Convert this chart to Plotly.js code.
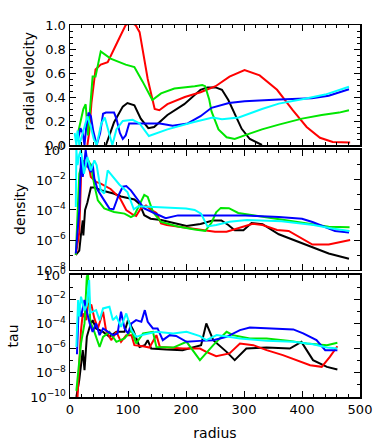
<!DOCTYPE html>
<html>
<head>
<meta charset="utf-8">
<script src="https://cdn.plot.ly/plotly-3.0.1.min.js"></script>
<style>
  html, body { margin: 0; padding: 0; background: #fff; }
  #plot { width: 382px; height: 444px; }
</style>
</head>
<body>
<div id="plot"></div>
<script>
// radial velocity (linear)
var vBlackR = [62, 76, 91, 99, 111, 122, 135, 145, 168, 197, 225, 237, 251, 262, 273, 284, 296, 310, 331];
var vBlack  = [0, 0.19, 0.32, 0.35, 0.33, 0.22, 0.14, 0.15, 0.25, 0.34, 0.46, 0.48, 0.48, 0.46, 0.375, 0.26, 0.135, 0.05, 0];
var vRedR = [30, 33, 37, 44, 53, 65, 82, 96, 105, 113, 120, 134, 146, 154, 168, 198, 225, 251, 275, 301, 327, 357, 384, 408, 431, 453, 483];
var vRed  = [0, 0.1, 0.35, 0.63, 0.67, 0.69, 0.86, 1.0, 1.02, 1.0, 0.94, 0.55, 0.3, 0.29, 0.34, 0.40, 0.44, 0.49, 0.57, 0.625, 0.58, 0.46, 0.29, 0.15, 0.06, 0.025, 0.02];
var vGreenR = [11, 16, 23, 27, 31, 39, 44, 53, 70, 96, 111, 125, 142, 157, 180, 215, 228, 233, 240, 244, 256, 270, 284, 301, 331, 360, 400, 434, 464, 481];
var vGreen  = [0.04, 0.15, 0.3, 0.34, 0.08, 0.57, 0.57, 0.78, 0.72, 0.67, 0.65, 0.53, 0.375, 0.43, 0.47, 0.49, 0.5, 0.49, 0.38, 0.28, 0.13, 0.065, 0.05, 0.08, 0.13, 0.17, 0.22, 0.25, 0.27, 0.29];
var vBlueR = [14, 18, 22, 25, 28, 32, 36, 40, 46, 52, 57, 62, 76, 80, 86, 91, 96, 102, 111, 155, 177, 203, 225, 244, 274, 301, 360, 417, 446, 481];
var vBlue  = [0.05, 0.14, 0.1, 0, 0.15, 0.27, 0.24, 0.12, 0, 0.1, 0.26, 0.27, 0.27, 0.22, 0.1, 0.05, 0.08, 0.18, 0.18, 0.18, 0.16, 0.18, 0.24, 0.31, 0.35, 0.365, 0.38, 0.39, 0.41, 0.465];
var vCyanR = [8, 11, 13, 16, 22, 30, 36, 41, 46, 54, 60, 68, 73, 80, 91, 108, 120, 136, 149, 168, 212, 246, 262, 291, 331, 360, 405, 440, 481];
var vCyan  = [0.1, 0, 0.12, 0, 0.1, 0.24, 0.15, 0.05, 0, 0.18, 0.23, 0.1, 0, 0.13, 0.2, 0.21, 0.18, 0.075, 0.1, 0.13, 0.19, 0.23, 0.215, 0.23, 0.3, 0.345, 0.385, 0.42, 0.485];

// density (log10 values)
var dBlackR = [10, 16, 19, 22, 23, 26, 30, 36, 42, 55, 75, 88, 111, 120, 128, 139, 157, 185, 201, 225, 246, 261, 273, 284, 299, 313, 332, 360, 388, 417, 446, 481];
var dBlack  = [-7.0, -6.7, -5.6, -4.7, -5.7, -4.0, -3.5, -2.5, -2.5, -2.7, -2.9, -3.1, -3.3, -3.6, -4.35, -4.58, -4.67, -4.95, -5.07, -4.93, -4.7, -4.7, -5.0, -5.35, -5.35, -4.87, -4.95, -5.62, -6.02, -6.47, -6.9, -7.25];
var dRedR = [10, 16, 19, 22, 27, 31, 36, 45, 53, 70, 86, 97, 108, 114, 122, 131, 140, 149, 157, 167, 194, 224, 250, 270, 293, 315, 332, 357, 377, 396, 418, 446, 483];
var dRed  = [-7.0, -5.5, -1.8, -1.5, -1.13, -0.8, -1.8, -2.13, -2.24, -2.6, -3.2, -4.0, -4.3, -4.4, -3.9, -3.7, -4.0, -4.2, -4.9, -5.0, -5.15, -5.27, -5.45, -5.45, -5.2, -4.92, -5.0, -5.33, -5.4, -5.8, -6.3, -6.3, -6.0];
var dGreenR = [10, 16, 22, 27, 31, 36, 42, 48, 59, 76, 94, 105, 111, 120, 128, 134, 143, 157, 186, 215, 233, 244, 252, 260, 274, 290, 331, 360, 390, 418, 446, 482];
var dGreen  = [-7.0, -1.6, -0.7, -1.1, -0.67, -1.02, -2.36, -3.36, -3.9, -4.13, -4.24, -4.47, -4.35, -3.58, -3.0, -3.13, -4.13, -4.8, -5.1, -5.3, -5.4, -4.85, -4.15, -3.86, -3.88, -4.2, -4.45, -4.62, -4.8, -4.97, -5.12, -5.15];
var dBlueR = [10, 16, 19, 22, 27, 31, 36, 39, 42, 48, 59, 68, 75, 84, 91, 97, 105, 117, 128, 145, 165, 186, 226, 252, 302, 360, 400, 418, 440, 457, 481];
var dBlue  = [-6.9, -4.0, -0.47, -1.8, 0.0, -1.13, -1.47, -0.91, -1.91, -2.69, -3.36, -3.91, -3.95, -3.0, -2.45, -2.4, -2.69, -3.36, -3.9, -4.2, -4.55, -4.36, -4.36, -4.4, -4.36, -4.47, -4.58, -4.8, -5.15, -5.4, -5.5];
var dCyanR = [10, 11, 13, 16, 19, 24, 30, 36, 42, 46, 53, 59, 65, 76, 85, 99, 106, 110, 118, 145, 170, 200, 215, 226, 237, 252, 275, 305, 365, 420, 452, 482];
var dCyan  = [-3.8, 0, -1.0, -0.3, 0, -1.58, -0.47, -1.36, -0.69, -1.02, -2.69, -2.91, -1.36, -1.91, -2.3, -2.8, -3.6, -3.95, -3.75, -3.8, -3.82, -3.9, -4.0, -4.25, -5.1, -5.0, -4.78, -4.66, -4.75, -5.0, -5.23, -5.4];

// tau (log10 values)
var tBlackR = [11, 16, 22, 25, 29, 34, 39, 45, 57, 68, 80, 94, 100, 109, 120, 129, 134, 140, 166, 194, 226, 235, 247, 270, 284, 304, 339, 379, 399, 419, 443, 461];
var tBlack  = [-10, -8.6, -6.16, -7.8, -5.07, -4.25, -3.7, -4.38, -4.66, -5.07, -4.66, -4.66, -3.7, -4.52, -5.9, -5.75, -5.34, -6.03, -6.11, -6.16, -5.75, -3.97, -5.34, -6.3, -6.98, -6.03, -5.95, -6.03, -5.48, -6.98, -7.53, -7.75];
var tRedR = [13, 19, 22, 28, 31, 37, 42, 48, 57, 62, 71, 80, 88, 97, 106, 111, 126, 137, 149, 155, 195, 224, 235, 252, 275, 293, 316, 339, 367, 391, 414, 434, 448, 461];
var tRed  = [-10, -4.52, -3.15, -3.7, -2.33, -2.47, -3.56, -4.38, -3.01, -4.52, -5.34, -4.66, -5.48, -4.93, -4.93, -5.75, -5.84, -5.95, -4.93, -5.9, -6.03, -6.03, -6.3, -6.65, -6.43, -5.61, -5.75, -6.16, -6.57, -6.98, -7.4, -7.53, -6.71, -5.84];
var tGreenR = [11, 19, 25, 29, 31, 35, 42, 51, 57, 68, 80, 94, 106, 114, 126, 143, 149, 178, 201, 224, 247, 270, 281, 310, 339, 379, 408, 443, 461];
var tGreen  = [-9.5, -5.6, -3.97, -0.14, 0.1, -3.84, -4.66, -5.9, -5.07, -4.66, -5.48, -5.2, -4.52, -5.61, -4.79, -4.66, -5.9, -5.95, -5.48, -6.98, -5.75, -4.66, -4.93, -5.2, -5.2, -5.4, -5.61, -5.75, -5.56];
var tBlueR = [12, 15, 19, 25, 29, 34, 39, 45, 51, 57, 74, 82, 88, 94, 100, 106, 114, 123, 129, 134, 143, 151, 160, 172, 183, 201, 224, 247, 270, 293, 310, 344, 385, 402, 425, 440, 461];
var tBlue  = [-6.5, -2.6, -3.4, -2.05, -3.0, -3.97, -4.66, -3.97, -4.93, -4.38, -4.93, -4.8, -3.01, -4.38, -4.79, -3.97, -3.7, -3.84, -2.88, -3.84, -4.38, -4.38, -5.34, -4.93, -5.0, -5.48, -5.4, -5.34, -5.07, -4.52, -4.3, -4.35, -4.46, -4.79, -5.34, -6.16, -6.16];
var tCyanR = [11, 14, 16, 19, 25, 29, 33, 35, 45, 51, 57, 68, 74, 80, 88, 97, 106, 114, 126, 137, 149, 178, 201, 224, 235, 253, 270, 293, 339, 385, 419, 443, 461];
var tCyan  = [-5.9, -2.05, -3.4, -1.78, -2.9, -2.5, -0.41, -3.1, -2.88, -3.7, -2.74, -2.6, -3.7, -3.4, -4.25, -3.15, -4.52, -5.07, -4.9, -4.79, -4.66, -4.79, -4.66, -5.01, -5.34, -4.93, -5.05, -5.2, -5.4, -5.48, -5.67, -5.95, -6.03];

var colors = {black: "#000000", red: "#ff0000", green: "#00e600", blue: "#0000ff", cyan: "#00ffff"};

// log tick labels
var densTickVals = [1e-8, 1e-6, 1e-4, 1e-2, 1];
var densTickText = ["10<sup>\u22128</sup>", "10<sup>\u22126</sup>", "10<sup>\u22124</sup>", "10<sup>\u22122</sup>", "10<sup>0</sup>"];
var tauTickVals = [1e-10, 1e-8, 1e-6, 1e-4, 1e-2, 1];
var tauTickText = ["10<sup>\u221210</sup>", "10<sup>\u22128</sup>", "10<sup>\u22126</sup>", "10<sup>\u22124</sup>", "10<sup>\u22122</sup>", "10<sup>0</sup>"];
var densMinor = [1e-7, 1e-5, 1e-3, 1e-1];
var tauMinor = [1e-9, 1e-7, 1e-5, 1e-3, 1e-1];

function unlog(arr) { return arr.map(function (v) { return Math.pow(10, v); }); }

function line(x, y, color, n) {
  return {
    x: x, y: y, type: "scatter", mode: "lines",
    line: {color: color, width: 2},
    xaxis: "x" + n, yaxis: "y" + n,
    hoverinfo: "skip"
  };
}

var data = [
  line(vBlackR, vBlack, colors.black, ""),
  line(vRedR, vRed, colors.red, ""),
  line(vGreenR, vGreen, colors.green, ""),
  line(vBlueR, vBlue, colors.blue, ""),
  line(vCyanR, vCyan, colors.cyan, ""),
  line(dBlackR, unlog(dBlack), colors.black, "2"),
  line(dRedR, unlog(dRed), colors.red, "2"),
  line(dGreenR, unlog(dGreen), colors.green, "2"),
  line(dBlueR, unlog(dBlue), colors.blue, "2"),
  line(dCyanR, unlog(dCyan), colors.cyan, "2"),
  line(tBlackR, unlog(tBlack), colors.black, "3"),
  line(tRedR, unlog(tRed), colors.red, "3"),
  line(tGreenR, unlog(tGreen), colors.green, "3"),
  line(tBlueR, unlog(tBlue), colors.blue, "3"),
  line(tCyanR, unlog(tCyan), colors.cyan, "3")
];

var font = {family: "DejaVu Sans, sans-serif", size: 13, color: "#000"};
var titleFont = {family: "DejaVu Sans, sans-serif", size: 14, color: "#000"};

function xax(anchor, labels) {
  return {
    anchor: anchor, range: [0, 500], dtick: 100, tick0: 0,
    showticklabels: labels, ticks: "inside", ticklen: 6, tickwidth: 1, tickcolor: "#000",
    minor: {dtick: 20, ticks: "inside", ticklen: 3, tickcolor: "#000"},
    showline: true, linecolor: "#000", linewidth: 1.5, mirror: "allticks",
    showgrid: false, zeroline: false, tickfont: font
  };
}

function yax(domain, extra) {
  var a = {
    domain: domain, ticks: "inside", ticklen: 6, tickwidth: 1, tickcolor: "#000",
    showline: true, linecolor: "#000", linewidth: 1.5, mirror: "allticks",
    showgrid: false, zeroline: false, tickfont: font
  };
  for (var k in extra) a[k] = extra[k];
  return a;
}

// y titles as rotated annotations (paper x measured from the plot's left edge)
function ytitle(text, xPaper, yPaper) {
  return {
    text: text, xref: "paper", yref: "paper", x: xPaper, y: yPaper,
    xanchor: "center", yanchor: "middle", textangle: -90,
    showarrow: false, font: titleFont
  };
}

var layout = {
  width: 382, height: 444,
  margin: {l: 70, r: 22, t: 25, b: 47},
  paper_bgcolor: "#fff", plot_bgcolor: "#fff",
  showlegend: false,
  font: font,
  xaxis: xax("y", false),
  xaxis2: xax("y2", false),
  xaxis3: xax("y3", true),
  yaxis: yax([0.6774, 1], {
    range: [0, 1], dtick: 0.2, tick0: 0, tickformat: ".1f",
    minor: {dtick: 0.05, ticks: "inside", ticklen: 3, tickcolor: "#000"}
  }),
  yaxis2: yax([0.3414, 0.664], {
    type: "log", range: [-8, 0], tickmode: "array",
    tickvals: densTickVals, ticktext: densTickText,
    minor: {tickmode: "array", tickvals: densMinor, ticks: "inside", ticklen: 3, tickcolor: "#000"}
  }),
  yaxis3: yax([0, 0.328], {
    type: "log", range: [-10, 0], tickmode: "array",
    tickvals: tauTickVals, ticktext: tauTickText,
    minor: {tickmode: "array", tickvals: tauMinor, ticks: "inside", ticklen: 3, tickcolor: "#000"}
  }),
  annotations: [
    ytitle("radial velocity", -0.142, 0.85),
    ytitle("density", -0.172, 0.503),
    ytitle("tau", -0.195, 0.164)
  ]
};
layout.xaxis3.title = {text: "radius", font: titleFont, standoff: 12};

Plotly.newPlot("plot", data, layout, {staticPlot: true});
</script>
</body>
</html>
